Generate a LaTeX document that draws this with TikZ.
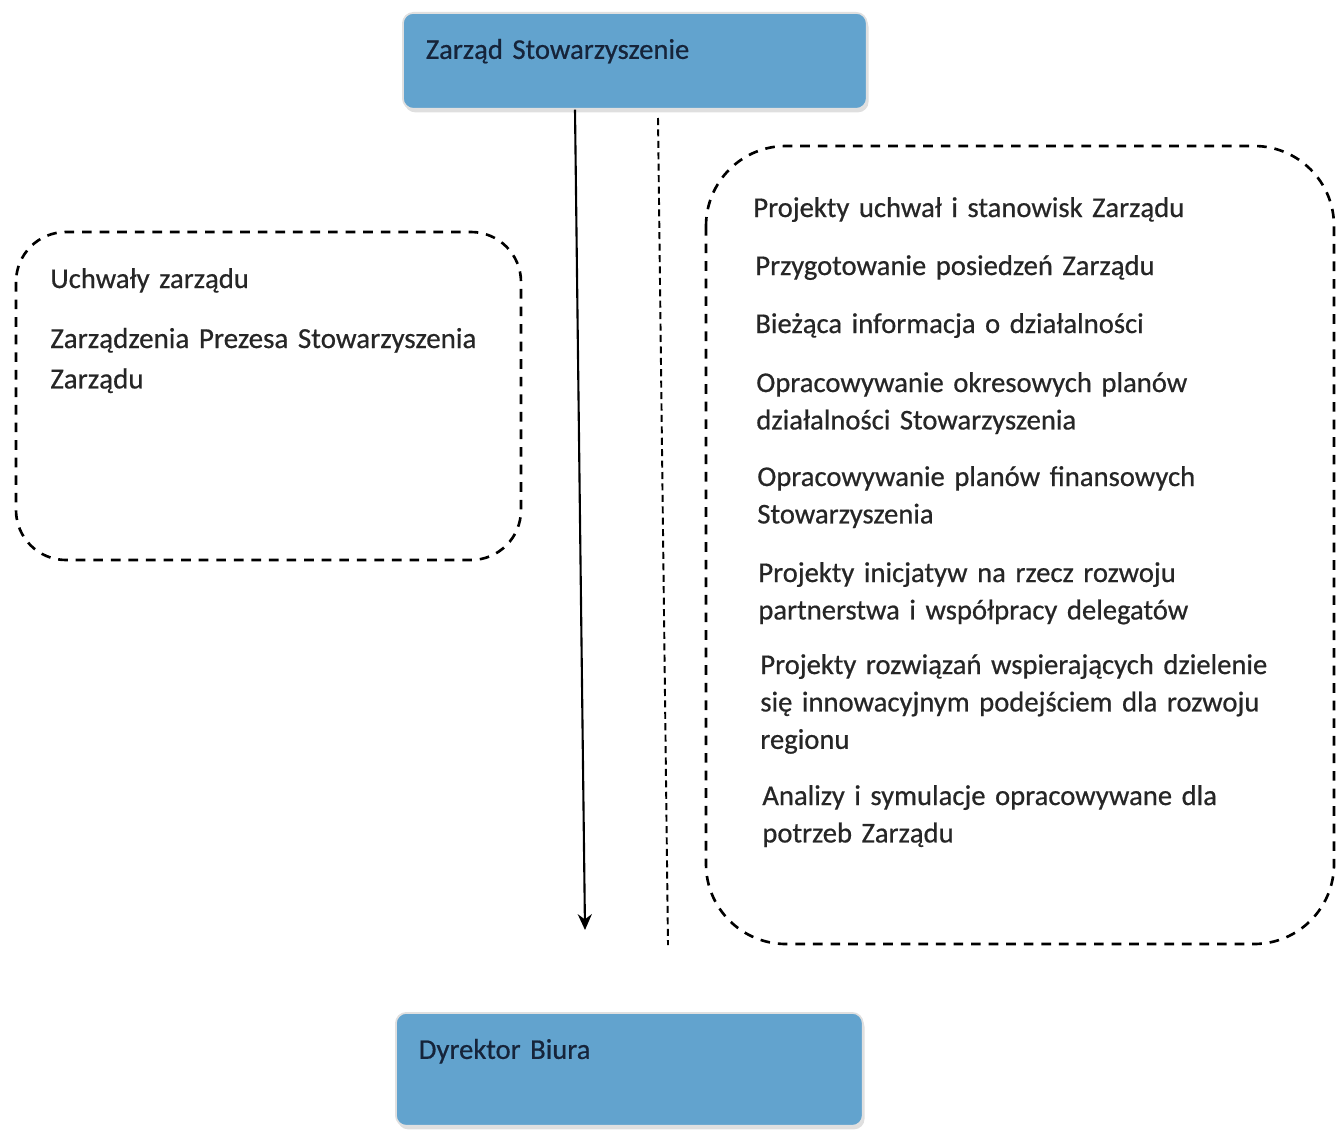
\documentclass[tikz,border=0pt]{standalone}
\usepackage{fontspec}
\setmainfont{Carlito}[FakeBold=0.6]
\usetikzlibrary{arrows.meta,shadows}

\definecolor{boxblue}{RGB}{98,163,206}
\definecolor{boxtext}{RGB}{22,36,58}

\tikzset{
  headbox/.style={rectangle, rounded corners=6pt, fill=boxblue, draw=black!12,
    line width=1pt, drop shadow={opacity=0.25,shadow xshift=1pt,shadow yshift=-2pt},
    text=boxtext, align=left, anchor=north west, inner xsep=0.46cm, inner ysep=0pt,
    font=\fontsize{16.3}{21}\selectfont},
  groupbox/.style={draw, dash pattern=on 5.5pt off 4.5pt, line width=1.5pt},
  itemtext/.style={anchor=base west, inner sep=0pt, align=left, text width=11.5cm,
    text=black!85, font=\fontsize{16.3}{21.3}\selectfont}
}

\begin{document}
\begin{tikzpicture}[x=0.02cm,y=-0.02cm]
  \useasboundingbox (0,0) rectangle (1337,1132);

  \node[headbox, text width=8.36cm, text height=0.92cm, text depth=1cm]
    (zarzad) at (402,12) {Zarząd Stowarzyszenie};
  \node[headbox, text width=8.42cm, text height=0.92cm, text depth=1.34cm]
    (dyrektor) at (395,1012) {Dyrektor Biura};

  % dashed groups
  \draw[groupbox, rounded corners=1cm] (16,232) rectangle (521,560);
  \draw[groupbox, rounded corners=1.6cm] (706,146) rectangle (1334,944);

  \node[itemtext] (uchwaly) at (50,288) {Uchwały zarządu};
  \node[itemtext, font=\fontsize{16.5}{23}\selectfont] (zarzadzenia) at (50,348)
    {Zarządzenia Prezesa Stowarzyszenia\\Zarządu};

  \foreach \x/\y/\t [count=\i] in {
      753/217/{Projekty uchwał i stanowisk Zarządu},
      755/275/{Przygotowanie posiedzeń Zarządu},
      755/333/{Bieżąca informacja o działalności},
      756/392/{Opracowywanie okresowych planów\\działalności Stowarzyszenia},
      757/486/{Opracowywanie planów finansowych\\Stowarzyszenia},
      758/582/{Projekty inicjatyw na rzecz rozwoju\\partnerstwa i współpracy delegatów},
      760/674/{Projekty rozwiązań wspierających dzielenie\\się innowacyjnym podejściem dla rozwoju\\regionu},
      762/805/{Analizy i symulacje opracowywane dla\\potrzeb Zarządu}}
    \node[itemtext] (zadanie\i) at (\x,\y) {\t};

  % connectors
  \coordinate (arrowstart) at (575,110);
  \coordinate (arrowend) at (585,930);
  \coordinate (dashstart) at (658,118);
  \coordinate (dashend) at (668,945);
  \draw[line width=1.2pt, -{Stealth[length=9pt,width=8pt]}]
    (zarzad.south -| arrowstart) -- (arrowend);
  \draw[line width=1.1pt, dash pattern=on 4pt off 2.5pt]
    (dashstart) -- (dashend);
\end{tikzpicture}
\end{document}
